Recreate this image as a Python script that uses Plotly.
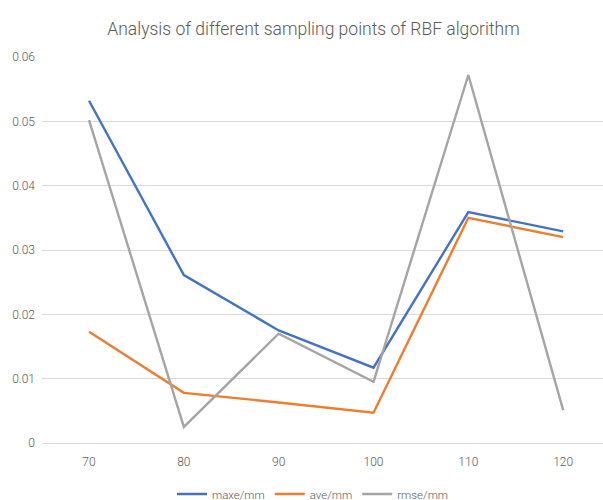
import plotly.graph_objects as go

sampling_points = [70, 80, 90, 100, 110, 120]
maxe_mm = [0.0532, 0.0261, 0.0175, 0.0117, 0.0359, 0.0329]
ave_mm = [0.0173, 0.0078, 0.0063, 0.0047, 0.0350, 0.0320]
rmse_mm = [0.0502, 0.0025, 0.0170, 0.0095, 0.0572, 0.0051]

series_names = ["maxe/mm", "ave/mm", "rmse/mm"]
series_colors = ["#4472C4", "#ED7D31", "#A5A5A5"]
y_tick_vals = [0, 0.01, 0.02, 0.03, 0.04, 0.05, 0.06]
y_tick_text = ["0", "0.01", "0.02", "0.03", "0.04", "0.05", "0.06"]
x_tick_vals = [70, 80, 90, 100, 110, 120]
x_tick_text = ["70", "80", "90", "100", "110", "120"]

FONT = "Roboto, Liberation Sans, sans-serif"

fig = go.Figure()
for name, vals, col in zip(series_names, [maxe_mm, ave_mm, rmse_mm], series_colors):
    fig.add_trace(go.Scatter(
        x=sampling_points, y=vals, name=name, mode="lines",
        line=dict(color=col, width=2.4),
    ))

fig.update_layout(
    width=603, height=500,
    margin=dict(l=42, r=0, t=57, b=57),
    paper_bgcolor="white", plot_bgcolor="white",
    font=dict(family=FONT, color="#595959", size=12),
    title=dict(
        text="Analysis of different sampling points of RBF algorithm",
        x=313.5 / 603, xref="container", xanchor="center",
        y=1 - 29 / 500, yref="container", yanchor="middle",
        font=dict(family=FONT, size=17.5, color="#595959", weight=300),
    ),
    xaxis=dict(
        range=[65.04, 124.2], tickvals=x_tick_vals, ticktext=x_tick_text,
        showgrid=False, zeroline=False, showline=False, ticks="",
        ticklabelstandoff=10,
        tickfont=dict(family=FONT, size=12, color="#595959", weight=300),
    ),
    yaxis=dict(
        range=[0, 0.06], tickvals=y_tick_vals, ticktext=y_tick_text,
        showgrid=True, gridcolor="#D9D9D9", gridwidth=1,
        zeroline=True, zerolinecolor="#D9D9D9", zerolinewidth=1,
        showline=False, ticks="", ticklabelstandoff=6,
        tickfont=dict(family=FONT, size=12, color="#595959", weight=300),
    ),
    legend=dict(
        orientation="h", x=313 / 603, xref="container", xanchor="center",
        y=1 - 494 / 500, yref="container", yanchor="middle",
        font=dict(family=FONT, size=11.5, color="#595959", weight=300),
        itemwidth=30, tracegroupgap=0,
    ),
    showlegend=True,
)

fig.write_html(
    "out.html",
    config={"displayModeBar": False},
    post_script="document.body.style.margin='0';",
)
